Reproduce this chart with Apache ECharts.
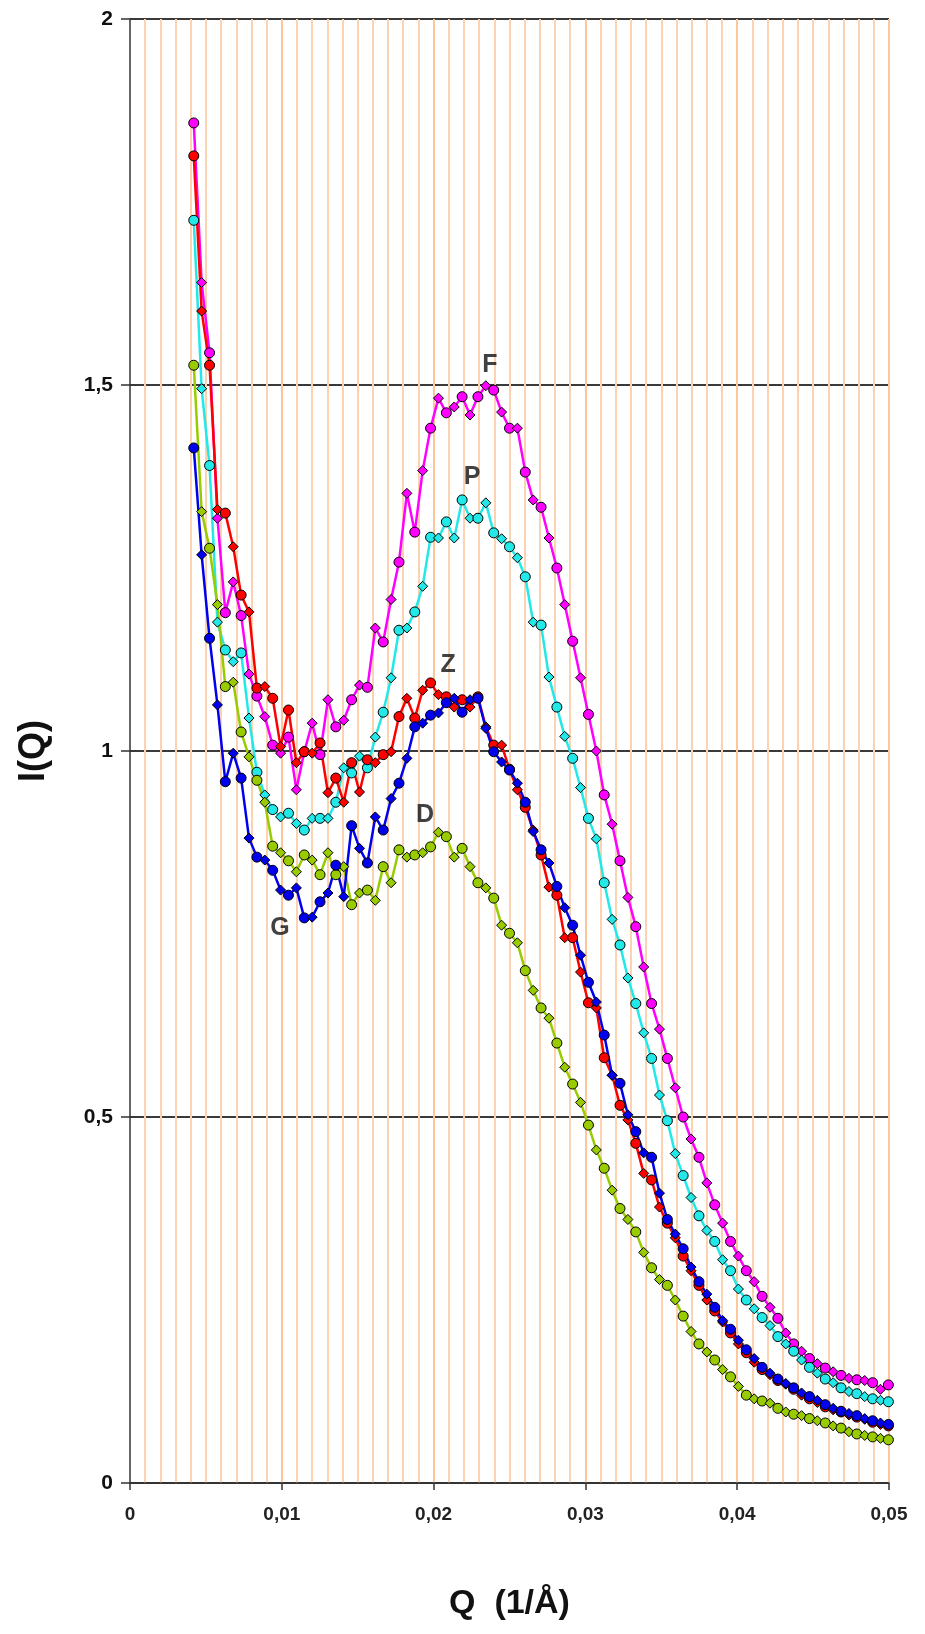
<!DOCTYPE html>
<html><head><meta charset="utf-8">
<script src="https://cdn.jsdelivr.net/npm/echarts@6/dist/echarts.min.js"></script>
<style>html,body{margin:0;padding:0;background:#fff}#c{width:925px;height:1634px}</style>
</head><body><div id="c"></div>
<script>
// Q values (1/Å)
const Q = [0.0042,0.00472,0.00524,0.00576,0.00628,0.0068,0.00732,0.00784,0.00836,0.00888,
0.0094,0.00992,0.01044,0.01096,0.01148,0.012,0.01252,0.01304,0.01356,0.01408,
0.0146,0.01512,0.01564,0.01616,0.01668,0.0172,0.01772,0.01824,0.01876,0.01928,
0.0198,0.02032,0.02084,0.02136,0.02188,0.0224,0.02292,0.02344,0.02396,0.02448,
0.025,0.02552,0.02604,0.02656,0.02708,0.0276,0.02812,0.02864,0.02916,0.02968,
0.0302,0.03072,0.03124,0.03176,0.03228,0.0328,0.03332,0.03384,0.03436,0.03488,
0.0354,0.03592,0.03644,0.03696,0.03748,0.038,0.03852,0.03904,0.03956,0.04008,
0.0406,0.04112,0.04164,0.04216,0.04268,0.0432,0.04372,0.04424,0.04476,0.04528,
0.0458,0.04632,0.04684,0.04736,0.04788,0.0484,0.04892,0.04944,0.04996];

const F = [1.858,1.64,1.544,1.318,1.189,1.231,1.185,1.105,1.075,1.047,
1.008,0.997,1.019,0.947,0.999,1.038,0.995,1.07,1.033,1.042,
1.07,1.09,1.087,1.168,1.149,1.207,1.258,1.352,1.299,1.383,
1.441,1.482,1.462,1.47,1.484,1.459,1.484,1.499,1.493,1.463,
1.441,1.441,1.381,1.343,1.333,1.291,1.25,1.2,1.15,1.1,
1.05,1.0,0.94,0.9,0.85,0.8,0.76,0.705,0.655,0.62,
0.58,0.54,0.5,0.47,0.445,0.41,0.38,0.355,0.33,0.31,
0.29,0.275,0.255,0.24,0.225,0.205,0.19,0.18,0.17,0.163,
0.157,0.152,0.147,0.143,0.141,0.14,0.137,0.128,0.134];

const P = [1.725,1.495,1.39,1.176,1.138,1.122,1.134,1.045,0.971,0.94,
0.92,0.91,0.915,0.901,0.892,0.908,0.908,0.908,0.93,0.977,
0.97,0.993,0.977,1.019,1.053,1.1,1.165,1.168,1.19,1.225,
1.292,1.291,1.313,1.291,1.343,1.318,1.318,1.339,1.298,1.29,
1.279,1.264,1.238,1.176,1.172,1.101,1.06,1.02,0.99,0.95,
0.908,0.88,0.82,0.77,0.735,0.69,0.655,0.615,0.58,0.53,
0.495,0.45,0.42,0.39,0.365,0.345,0.33,0.305,0.29,0.265,
0.25,0.238,0.226,0.215,0.2,0.19,0.18,0.168,0.158,0.15,
0.142,0.137,0.13,0.125,0.122,0.118,0.115,0.113,0.111];

const Z = [1.813,1.601,1.527,1.33,1.325,1.279,1.213,1.19,1.086,1.088,
1.072,1.006,1.056,0.984,0.999,0.997,1.011,0.943,0.963,0.93,
0.984,0.944,0.988,0.984,0.995,0.999,1.047,1.072,1.045,1.083,
1.093,1.077,1.074,1.06,1.07,1.06,1.074,1.033,1.008,1.008,
0.975,0.947,0.923,0.892,0.858,0.814,0.803,0.745,0.745,0.698,
0.656,0.649,0.581,0.557,0.516,0.496,0.464,0.423,0.414,0.377,
0.355,0.335,0.31,0.29,0.27,0.25,0.235,0.22,0.205,0.19,
0.178,0.165,0.155,0.148,0.14,0.135,0.128,0.12,0.115,0.11,
0.104,0.1,0.097,0.093,0.09,0.087,0.083,0.08,0.078];

const G = [1.414,1.268,1.154,1.063,0.958,0.997,0.963,0.881,0.855,0.851,
0.837,0.81,0.803,0.813,0.772,0.773,0.794,0.806,0.844,0.801,
0.898,0.867,0.847,0.91,0.892,0.935,0.956,0.99,1.033,1.038,
1.049,1.052,1.066,1.072,1.053,1.07,1.072,1.031,0.999,0.985,
0.974,0.956,0.93,0.89,0.865,0.847,0.815,0.786,0.762,0.721,
0.684,0.657,0.612,0.557,0.546,0.503,0.48,0.451,0.445,0.396,
0.36,0.34,0.32,0.295,0.275,0.258,0.24,0.222,0.21,0.195,
0.182,0.17,0.158,0.15,0.142,0.136,0.13,0.123,0.118,0.113,
0.107,0.102,0.098,0.095,0.092,0.088,0.085,0.082,0.08];

const D = [1.527,1.327,1.277,1.2,1.088,1.094,1.026,0.992,0.96,0.93,
0.87,0.861,0.85,0.835,0.858,0.851,0.831,0.861,0.831,0.842,
0.79,0.806,0.81,0.796,0.842,0.82,0.865,0.855,0.858,0.861,
0.869,0.889,0.883,0.855,0.867,0.842,0.82,0.813,0.799,0.762,
0.751,0.738,0.7,0.673,0.649,0.635,0.601,0.568,0.545,0.52,
0.489,0.455,0.43,0.4,0.375,0.36,0.343,0.315,0.294,0.278,
0.27,0.25,0.228,0.207,0.19,0.179,0.168,0.155,0.145,0.132,
0.12,0.115,0.112,0.109,0.102,0.097,0.094,0.092,0.088,0.085,
0.082,0.078,0.075,0.07,0.067,0.065,0.063,0.061,0.059];

const xTicks = ['0','0,01','0,02','0,03','0,04','0,05'];
const yTicks = ['0','0,5','1','1,5','2'];
const tags = ['F','P','Z','D','G'];
const tagQ = [0.0237,0.02253,0.02095,0.01943,0.00988];
const tagI = [1.527,1.374,1.117,0.913,0.758];

const chart = echarts.init(document.getElementById('c'), null, {renderer:'canvas'});

function mk(name, vals, color){
  return {
    name: name, type:'line', animation:false,
    data: Q.map((q,i)=>[q, vals[i]]),
    symbol: (v,p)=> (p.dataIndex % 2 ? 'diamond' : 'circle'),
    symbolSize: (v,p)=> (p.dataIndex % 2 ? 10 : 10),
    showAllSymbol: true,
    lineStyle: {color: color, width: 2.5},
    itemStyle: {color: color, borderColor:'#000', borderWidth: 1},
    emphasis: {disabled: true},
    z: 3
  };
}

const option = {
  backgroundColor:'#fff',
  animation:false,
  grid:{left:130, right:36, top:19, bottom:151, containLabel:false},
  xAxis:{
    type:'value', min:0, max:0.05, interval:0.01, z:1,
    name:'Q  (1/Å)', nameLocation:'middle', nameGap:104,
    nameTextStyle:{fontSize:34, fontWeight:'bold', color:'#111', fontFamily:'Liberation Sans, Arial, sans-serif'},
    axisLine:{show:true, onZero:false, lineStyle:{color:'#333', width:1.5}},
    axisTick:{show:true, length:7, lineStyle:{color:'#333', width:1.5}},
    axisLabel:{margin:22, fontSize:19, fontWeight:'bold', color:'#222',
      fontFamily:'Liberation Sans Narrow, Liberation Sans, Arial, sans-serif',
      formatter:(v)=> xTicks[Math.round(v/0.01)]},
    splitLine:{show:true, showMinLine:false, lineStyle:{color:'#fbc79b', width:2}},
    minorTick:{show:false, splitNumber:10},
    minorSplitLine:{show:true, lineStyle:{color:'#fcd3b0', width:2}}
  },
  yAxis:{
    type:'value', min:0, max:2, interval:0.5, z:0,
    name:'I(Q)', nameLocation:'middle', nameGap:78, nameRotate:90,
    nameTextStyle:{fontSize:36, fontWeight:'bold', color:'#111', fontFamily:'Liberation Sans, Arial, sans-serif'},
    axisLine:{show:true, lineStyle:{color:'#333', width:1.5}},
    axisTick:{show:true, length:9, lineStyle:{color:'#333', width:1.5}},
    axisLabel:{margin:17, fontSize:21, fontWeight:'bold', color:'#111',
      fontFamily:'Liberation Sans, Arial, sans-serif',
      formatter:(v)=> yTicks[Math.round(v/0.5)]},
    splitLine:{show:true, lineStyle:{color:'#3a3a3a', width:2}}
  },
  series:[
    mk('F', F, '#ff00ff'),
    mk('P', P, '#22e8e8'),
    mk('D', D, '#99cc00'),
    mk('Z', Z, '#ff0000'),
    mk('G', G, '#0000ee'),
    {
      type:'scatter', animation:false, symbolSize:0, z:5,
      data: tags.map((t,i)=>({name:t, value:[tagQ[i], tagI[i]]})),
      label:{show:true, position:'inside', formatter:'{b}', fontSize:25, fontWeight:'bold', color:'#111',
        fontFamily:'Liberation Sans, Arial, sans-serif'},
      emphasis:{disabled:true}
    }
  ]
};
chart.setOption(option);
</script>
</body></html>
